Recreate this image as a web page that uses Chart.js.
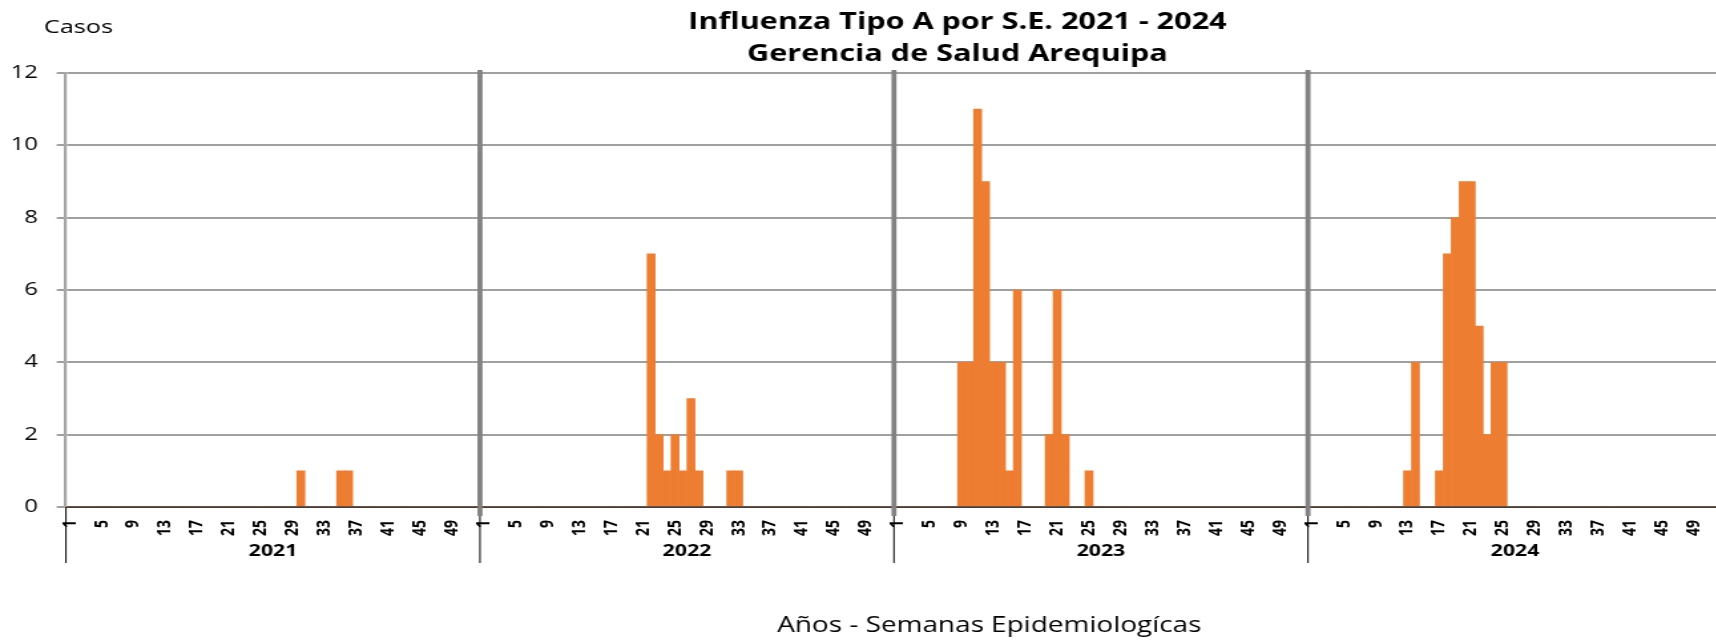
<!DOCTYPE html>
<html>
<head>
<meta charset="utf-8">
<title>Influenza Tipo A por S.E. 2021 - 2024</title>
<script src="https://cdn.jsdelivr.net/npm/chart.js@4.4.1/dist/chart.umd.min.js"></script>
<style>
    html, body { margin: 0; padding: 0; overflow: hidden; background: #fff; }
    #wrap { position: relative; width: 1716px; height: 640px; overflow: hidden; }
    #fluChart { display: block; }
</style>
</head>
<body>
<div id="wrap"><canvas id="fluChart"></canvas></div>
<script>
// Datos: casos de Influenza A por semana epidemiológica (1-52) y año
const years = ['2021', '2022', '2023', '2024'];
const weeks = Array.from({ length: 52 }, (_, i) => i + 1);

const cases2021 = [
    0, 0, 0, 0, 0, 0, 0, 0, 0, 0,
    0, 0, 0, 0, 0, 0, 0, 0, 0, 0,
    0, 0, 0, 0, 0, 0, 0, 0, 0, 1,
    0, 0, 0, 0, 1, 1, 0, 0, 0, 0,
    0, 0, 0, 0, 0, 0, 0, 0, 0, 0,
    0, 0
];
const cases2022 = [
    0, 0, 0, 0, 0, 0, 0, 0, 0, 0,
    0, 0, 0, 0, 0, 0, 0, 0, 0, 0,
    0, 7, 2, 1, 2, 1, 3, 1, 0, 0,
    0, 1, 1, 0, 0, 0, 0, 0, 0, 0,
    0, 0, 0, 0, 0, 0, 0, 0, 0, 0,
    0, 0
];
const cases2023 = [
    0, 0, 0, 0, 0, 0, 0, 0, 4, 4,
    11, 9, 4, 4, 1, 6, 0, 0, 0, 2,
    6, 2, 0, 0, 1, 0, 0, 0, 0, 0,
    0, 0, 0, 0, 0, 0, 0, 0, 0, 0,
    0, 0, 0, 0, 0, 0, 0, 0, 0, 0,
    0, 0
];
const cases2024 = [
    0, 0, 0, 0, 0, 0, 0, 0, 0, 0,
    0, 0, 1, 4, 0, 0, 1, 7, 8, 9,
    9, 5, 2, 4, 4, 0, 0, 0, 0, 0,
    0, 0, 0, 0, 0, 0, 0, 0, 0, 0,
    0, 0, 0, 0, 0, 0, 0, 0, 0, 0,
    0, 0
];
const yTicks = [0, 2, 4, 6, 8, 10, 12];

const titleLines = ['Influenza Tipo A por S.E. 2021 - 2024', 'Gerencia de Salud Arequipa'];
const yAxisTitle = 'Casos';
const xAxisTitle = 'Años - Semanas Epidemiologícas';

// El gráfico original está estirado en horizontal
const STRETCH = 1.33;
const CANVAS_W = 1295;
const CANVAS_H = 640;

// Eje continuo: 4 años x 52 semanas
const allCases = [cases2021, cases2022, cases2023, cases2024];
const labels = [];
const values = [];
years.forEach((year, y) => {
    weeks.forEach((w, i) => {
        labels.push(String(w));
        values.push(allCases[y][i]);
    });
});

// Separadores de años, etiquetas de año y textos del gráfico
const decorPlugin = {
    id: 'decor',
    afterDraw(chart) {
        const ctx = chart.ctx;
        const xs = chart.scales.x;
        const area = chart.chartArea;
        const half = (xs.getPixelForValue(1) - xs.getPixelForValue(0)) / 2;
        const edges = years.map((_, y) => xs.getPixelForValue(y * weeks.length) - half);
        edges.push(xs.getPixelForValue(labels.length - 1) + half);

        ctx.save();
        // líneas finas del eje de categorías agrupadas
        ctx.strokeStyle = '#000';
        ctx.lineWidth = 1;
        edges.forEach(x => {
            ctx.beginPath();
            ctx.moveTo(x, area.bottom);
            ctx.lineTo(x, area.bottom + 56);
            ctx.stroke();
        });

        // barras grises entre años
        ctx.strokeStyle = '#828282';
        ctx.lineWidth = 3.8;
        edges.slice(1, years.length).forEach(x => {
            ctx.beginPath();
            ctx.moveTo(x, area.top - 3);
            ctx.lineTo(x, area.bottom + 9);
            ctx.stroke();
        });

        // etiquetas de año
        ctx.fillStyle = '#000';
        ctx.textAlign = 'center';
        ctx.textBaseline = 'middle';
        ctx.font = 'bold 16px "Open Sans"';
        years.forEach((year, y) => {
            ctx.fillText(year, (edges[y] + edges[y + 1]) / 2, 551);
        });

        // título
        ctx.font = 'bold 23px "Open Sans"';
        ctx.fillText(titleLines[0], 720, 22);
        ctx.fillText(titleLines[1], 720, 54);

        // títulos de ejes
        ctx.font = '19px "Open Sans"';
        ctx.textAlign = 'left';
        ctx.fillText(yAxisTitle, 33, 28);
        ctx.font = '21px "Open Sans"';
        ctx.textAlign = 'center';
        ctx.fillText(xAxisTitle, 744, 626);
        ctx.restore();
    }
};

document.addEventListener('DOMContentLoaded', function() {
    const canvas = document.getElementById('fluChart');
    canvas.width = CANVAS_W;
    canvas.height = CANVAS_H;
    canvas.style.width = (CANVAS_W * STRETCH) + 'px';
    canvas.style.height = CANVAS_H + 'px';

    new Chart(canvas, {
        type: 'bar',
        data: {
            labels: labels,
            datasets: [{
                label: 'Influenza A',
                data: values,
                backgroundColor: '#ED7D31',
                borderWidth: 0,
                barPercentage: 1,
                categoryPercentage: 1
            }]
        },
        options: {
            responsive: false,
            maintainAspectRatio: false,
            animation: false,
            layout: {
                padding: { top: 73, right: 0, bottom: 0, left: 0 }
            },
            plugins: {
                legend: { display: false },
                tooltip: { enabled: false }
            },
            scales: {
                x: {
                    grid: { display: false },
                    border: { display: true, color: '#404040', width: 2 },
                    ticks: {
                        autoSkip: false,
                        minRotation: 90,
                        maxRotation: 90,
                        padding: 5,
                        color: '#000',
                        font: { family: 'Open Sans', size: 14, weight: 'bold' },
                        callback: function(value, index) {
                            return index % 4 === 0 ? labels[index] : '';
                        }
                    },
                    afterFit: function(scale) {
                        scale.height = 133;
                        scale.paddingLeft = 0;
                        scale.paddingRight = 0;
                    }
                },
                y: {
                    min: 0,
                    max: 12,
                    afterBuildTicks: function(scale) {
                        scale.ticks = yTicks.map(v => ({ value: v }));
                    },
                    grid: {
                        color: '#a0a0a0',
                        lineWidth: 2,
                        tickLength: 7
                    },
                    border: { display: true, color: '#a6a6a6', width: 2.25 },
                    ticks: {
                        padding: 14,
                        color: '#000',
                        font: { family: 'Open Sans', size: 18 }
                    },
                    afterFit: function(scale) {
                        scale.width = 49.6;
                    }
                }
            }
        },
        plugins: [decorPlugin]
    });
});
</script>
</body>
</html>
